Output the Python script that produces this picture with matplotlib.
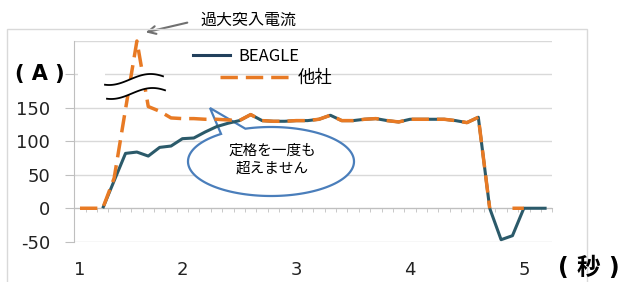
import numpy as np
import matplotlib
matplotlib.use('Agg')
import matplotlib.pyplot as plt
from matplotlib.lines import Line2D
from matplotlib.patches import Rectangle, PathPatch
from matplotlib.path import Path

# data (one point per sample, 42 samples)
nan = np.nan
beagle = [nan, nan, 0, 41, 82, 84, 78, 91, 93, 104, 105, 114, 122, 127, 131,
          140, 131, 130, 130, 131, 131, 133, 139, 131, 131, 133, 134, 131, 129,
          133, 133, 133, 133, 131, 128, 136, 0, -47, -41, 0, 0, 0]
other = [0, 0, 0, 45, 148, 250, 152, 145, 135, 134, 134, 133, 133, 132, 131,
         140, 131, 130, 130, 131, 131, 133, 139, 131, 131, 133, 134, 131, 129,
         133, 133, 133, 133, 131, 128, 136, 0, nan, 0, 0, nan, nan]
sec_labels = ['1', '2', '3', '4', '5']
sec_pos = [0, 9, 19, 29, 39]
y_ticks = [-50, 0, 50, 100, 150, 200, 250]
y_labels = ['-50', '0', '50', '100', '150', '', '']

W, H = 628, 282
TEAL = '#2b5a6a'
NAVY = '#22405c'
ORANGE = '#e87a24'
GRID = '#d9d9d9'
AXC = '#bfbfbf'
CJK = ['Noto Sans CJK JP', 'DejaVu Sans']
LAT = ['DejaVu Sans', 'Noto Sans CJK JP']

plt.rcParams['font.family'] = ['DejaVu Sans']

def fx(px):
    return px / W

def fy(py):
    return 1 - py / H

fig = plt.figure(figsize=(W / 100, H / 100), dpi=100)
ax = fig.add_axes([fx(74.3), fy(241.7), 478 / W, 200.7 / H])

x = np.arange(len(beagle))
ax.plot(x, beagle, color=TEAL, lw=2.2, zorder=3, solid_capstyle='butt')
ax.plot(x, other, color=ORANGE, lw=2.5, dashes=(5, 2.3), zorder=4,
        clip_on=False)

ax.set_xlim(-0.5, len(beagle) - 0.5)
ax.set_ylim(-50, 250)

# y axis
ax.set_yticks(y_ticks)
ax.set_yticklabels(y_labels)
ax.tick_params(axis='y', length=6.5, color=AXC, pad=11, labelsize=13,
               labelcolor='#222222')
ax.yaxis.get_major_ticks()[-1].tick1line.set_visible(False)
ax.grid(axis='y', color=GRID, lw=1)
ax.set_axisbelow(True)

# x axis sits on the zero line, small ticks between samples
ax.spines['bottom'].set_position(('data', 0))
ax.spines['bottom'].set_color(AXC)
ax.spines['left'].set_color(AXC)
ax.spines['top'].set_visible(False)
ax.spines['right'].set_visible(False)
ax.set_xticks(np.arange(-0.5, len(beagle), 1), minor=True)
ax.set_xticks(sec_pos)
ax.set_xticklabels(sec_labels)
ax.tick_params(axis='x', which='minor', length=3, color=AXC, direction='out')
ax.tick_params(axis='x', which='major', length=0, pad=38, labelsize=13,
               labelcolor='#222222')

fig.text(fx(40), fy(74), '( A )', ha='center', va='center', fontsize=15,
         fontweight='bold', family=LAT)
fig.text(fx(589), fy(268), '( 秒 )', ha='center', va='center', fontsize=17,
         fontweight='bold', family=LAT)

# outer chart frame
fig.add_artist(Rectangle((fx(7), -0.02), fx(580), fy(29) + 0.02,
                         transform=fig.transFigure, fill=False,
                         edgecolor=GRID, lw=1))

# legend, two entries set apart
h1 = Line2D([], [], color=NAVY, lw=2.2)
h2 = Line2D([], [], color=ORANGE, lw=2.5, dashes=(5, 2.3))
leg1 = ax.legend([h1], ['BEAGLE'], loc='center left', frameon=False,
                 bbox_to_anchor=(fx(193), fy(56)), bbox_transform=fig.transFigure,
                 borderpad=0, borderaxespad=0, handlelength=2.2,
                 handletextpad=0.5, prop={'family': CJK, 'size': 12})
ax.add_artist(leg1)
ax.legend([h2], ['他社'], loc='center left', frameon=False,
          bbox_to_anchor=(fx(220), fy(78)), bbox_transform=fig.transFigure,
          borderpad=0, borderaxespad=0, handlelength=4.0,
          handletextpad=0.5, prop={'family': CJK, 'size': 12.5})

# break marks on the spike
t = np.linspace(0, 1, 60)
bx = 105 + 58 * t
by = 79.5 - 5.5 * np.sin(np.pi * (1.4 * t - 0.6))
ux, uy = bx, by
lx, ly = bx + 2, by + 14
poly = np.vstack([np.column_stack([fx(ux), fy(uy)]),
                  np.column_stack([fx(lx[::-1]), fy(ly[::-1])])])
fig.add_artist(plt.Polygon(poly, closed=True, transform=fig.transFigure,
                           facecolor='white', edgecolor='none', zorder=5))
fig.add_artist(Rectangle((fx(78), fy(77)), fx(105 - 78), 5 / H,
                         transform=fig.transFigure, facecolor='white',
                         edgecolor='none', zorder=5))
fig.add_artist(Line2D(fx(ux), fy(uy), color='black', lw=1.3, zorder=6))
fig.add_artist(Line2D(fx(lx), fy(ly), color='black', lw=1.3, zorder=6))

# inrush annotation
fig.text(fx(248), fy(20), '過大突入電流', ha='center', va='center',
         fontsize=11.5, family=CJK)
ax.annotate('', xy=(fx(143), fy(33)), xycoords='figure fraction',
            xytext=(fx(190), fy(22)), textcoords='figure fraction',
            arrowprops=dict(arrowstyle='->', color='#707070', lw=1.5,
                            mutation_scale=14), annotation_clip=False)

# speech bubble, under the data lines
cx, cy, a, b = 271, 161.5, 83, 34.5
tip = (210, 108)
th0 = np.deg2rad(108)
th1 = np.deg2rad(127) - 2 * np.pi
th = np.linspace(th0, th1, 200)
px = cx + a * np.cos(th)
py = cy - b * np.sin(th)
verts = list(zip(fx(px), fy(py))) + [(fx(tip[0]), fy(tip[1])),
                                     (fx(px[0]), fy(py[0]))]
codes = [Path.MOVETO] + [Path.LINETO] * (len(verts) - 2) + [Path.CLOSEPOLY]
ax.add_patch(PathPatch(Path(verts, codes), transform=fig.transFigure,
                       facecolor='white', edgecolor='#4a7ebb', lw=1.6,
                       zorder=2.5, clip_on=False))
fig.text(fx(272), fy(151), '定格を一度も', ha='center', va='center',
         fontsize=10.5, family=CJK, zorder=8)
fig.text(fx(272), fy(169), '超えません', ha='center', va='center',
         fontsize=10.5, family=CJK, zorder=8)

fig.savefig('out.png', dpi=100)
